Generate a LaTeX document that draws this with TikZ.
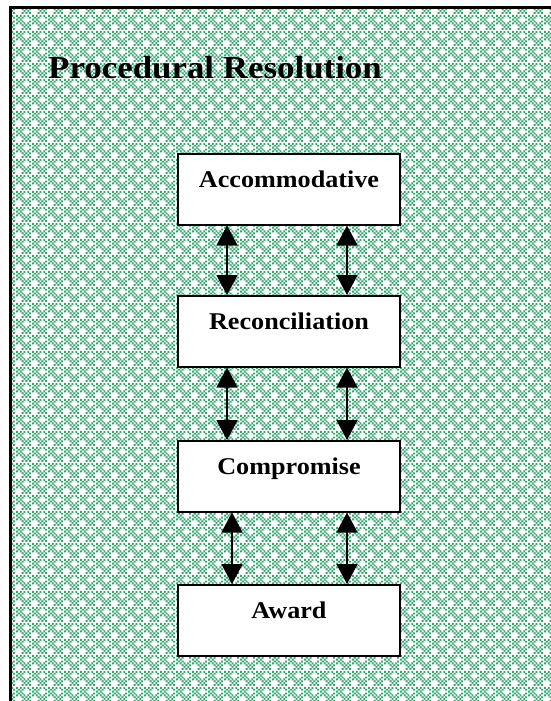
\documentclass[tikz,border=0pt]{standalone}
\usepackage{fontspec}
\setmainfont{Liberation Serif}
\usetikzlibrary{arrows.meta,patterns}

% green checkerboard with small white crosses (16pt tile, 2pt cells)
\newcommand{\gcell}[2]{\pgfpathrectangle{\pgfpoint{#1*2pt}{#2*2pt}}{\pgfpoint{2pt}{2pt}}}
\pgfdeclarepatternformonly{greencheck}{\pgfpointorigin}{\pgfpoint{16pt}{16pt}}{\pgfpoint{16pt}{16pt}}{%
  \gcell{0}{3}\gcell{0}{5}\gcell{0}{7}%
  \gcell{1}{4}\gcell{1}{6}%
  \gcell{2}{3}\gcell{2}{5}\gcell{2}{7}%
  \gcell{3}{0}\gcell{3}{2}\gcell{3}{4}\gcell{3}{6}%
  \gcell{4}{1}\gcell{4}{3}\gcell{4}{7}%
  \gcell{5}{0}\gcell{5}{2}%
  \gcell{6}{1}\gcell{6}{3}\gcell{6}{7}%
  \gcell{7}{0}\gcell{7}{2}\gcell{7}{4}\gcell{7}{6}%
  \pgfusepath{fill}}

\definecolor{checkgreen}{RGB}{50,165,112}

\tikzset{
  stagebox/.style={draw, line width=1.5pt, fill=white, minimum width=222pt,
    inner sep=0pt, text height=34pt, text depth=37pt, anchor=north,
    font=\bfseries\fontsize{24}{28}\selectfont\addfontfeature{FakeStretch=1.09}},
  twoway/.style={line width=1.6pt,
    {Triangle[width=21pt,length=20pt]}-{Triangle[width=21pt,length=20pt]}},
}

\begin{document}
\begin{tikzpicture}[x=1pt,y=-1pt]
  \useasboundingbox (0,0) rectangle (551,701);

  % patterned background and frame
  \fill[white] (11.5,9.5) rectangle (551,701);
  \fill[pattern=greencheck, pattern color=checkgreen] (11.5,9.5) rectangle (551,701);
  \draw[line width=3pt] (10,701) -- (10,8) -- (551,8);

  % title
  \node[anchor=base west, inner sep=0pt,
        font=\bfseries\fontsize{32}{38}\selectfont\addfontfeature{FakeStretch=1.09}]
    (title) at (48,78) {Procedural Resolution};

  % stages
  \node[stagebox] (acc) at (289,153) {Accommodative};
  \node[stagebox] (rec) at (289,295) {Reconciliation};
  \node[stagebox] (comp) at (289,440) {Compromise};
  \node[stagebox] (award) at (289,584) {Award};

  % two-way links between stages
  \draw[twoway] ([xshift=-62pt]acc.south) -- ([xshift=-62pt]rec.north);
  \draw[twoway] ([xshift=58pt]acc.south) -- ([xshift=58pt]rec.north);
  \draw[twoway] ([xshift=-62pt]rec.south) -- ([xshift=-62pt]comp.north);
  \draw[twoway] ([xshift=58pt]rec.south) -- ([xshift=58pt]comp.north);
  \draw[twoway] ([xshift=-57pt]comp.south) -- ([xshift=-57pt]award.north);
  \draw[twoway] ([xshift=58pt]comp.south) -- ([xshift=58pt]award.north);
\end{tikzpicture}
\end{document}
